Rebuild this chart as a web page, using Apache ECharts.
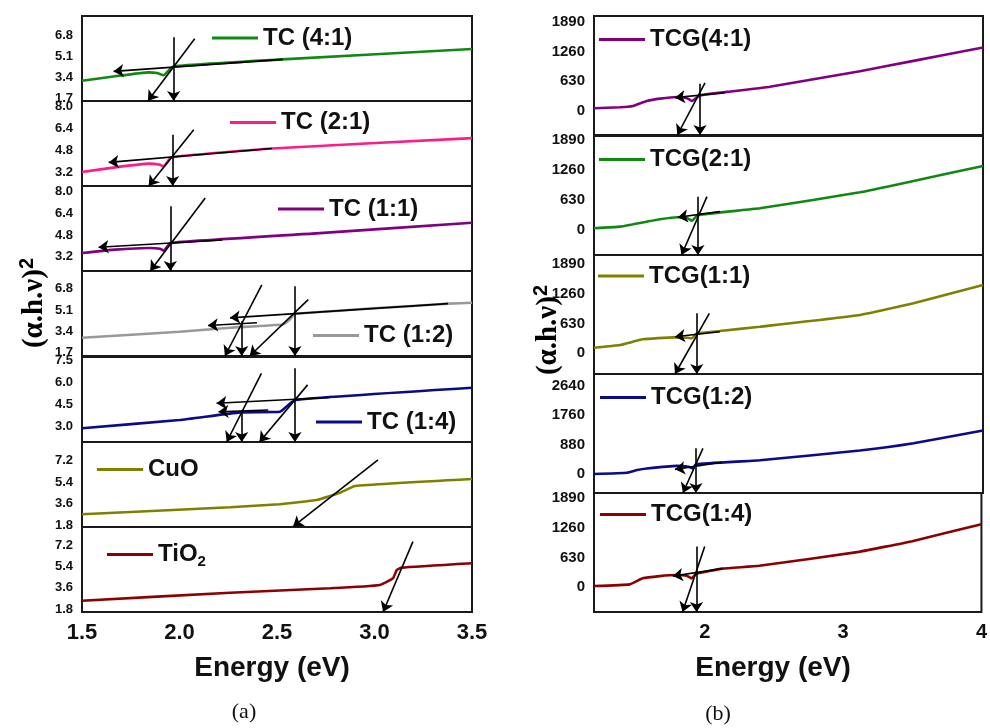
<!DOCTYPE html>
<html><head><meta charset="utf-8">
<script src="https://cdn.jsdelivr.net/npm/echarts@6/dist/echarts.min.js"></script>
<style>html,body{margin:0;padding:0;background:#fff}#c{width:990px;height:728px}</style>
</head><body><div id="c"></div>
<script>
// ---------- Panel (a) data: [Energy eV, value] ----------
const tc41 = [[1.5,3.1],[1.67,3.46],[1.842,3.78],[1.885,3.72],[1.919,3.54],[1.948,3.99],[1.97,4.27],[2.526,4.83],[3.5,5.67]];
const tc21 = [[1.5,3.22],[1.67,3.56],[1.842,3.83],[1.9,3.75],[1.919,3.63],[1.958,4.29],[2.474,4.93],[3.5,5.69]];
const tc11 = [[1.5,3.47],[1.67,3.72],[1.842,3.84],[1.9,3.79],[1.919,3.64],[1.953,4.21],[2.7,4.92],[3.5,5.71]];
const tc12 = [[1.5,2.87],[2.0,3.36],[2.26,3.68],[2.53,3.94],[2.56,4.25],[2.592,4.79],[3.377,5.61],[3.5,5.68]];
const tc14 = [[1.5,2.9],[2.0,3.45],[2.31,3.97],[2.515,4.01],[2.592,4.8],[3.5,5.63]];
const cuo  = [[1.5,2.7],[2.26,3.29],[2.513,3.54],[2.704,3.9],[2.823,4.51],[2.9,5.07],[3.5,5.66]];
const tio2 = [[1.5,2.52],[2.26,3.19],[2.772,3.56],[3.028,3.84],[3.095,4.4],[3.114,5.1],[3.14,5.3],[3.5,5.67]];

// tangent / arrow annotations (start -> arrow end), data units
const tc41Arrows = [[[2.53,4.83],[1.662,3.86]],[[1.97,6.61],[1.97,1.46]],[[2.078,6.5],[1.838,1.46]]];
const tc21Arrows = [[[2.474,4.93],[1.637,3.92]],[[1.965,5.94],[1.965,2.2]],[[2.073,6.3],[1.842,2.2]]];
const tc11Arrows = [[[2.22,4.43],[1.585,3.89]],[[1.953,6.92],[1.953,2.14]],[[2.132,7.53],[1.85,2.14]]];
const tc12Arrows = [[[3.377,5.61],[2.259,4.47]],[[2.397,4.08],[2.146,3.86]],[[2.319,4.2],[2.319,1.41]],[[2.422,7.12],[2.233,1.41]],[[2.592,7.0],[2.592,1.41]],[[2.66,5.93],[2.36,1.41]]];
const tc14Arrows = [[[2.77,4.97],[2.19,4.58]],[[2.455,4.13],[2.2,4.01]],[[2.319,4.13],[2.319,1.97]],[[2.42,6.6],[2.242,1.97]],[[2.592,6.95],[2.592,1.97]],[[2.657,5.82],[2.41,1.97]]];
const cuoArrows  = [[[3.018,7.26],[2.582,1.66]]];
const tio2Arrows = [[[3.197,7.48],[3.044,1.57]]];

const leftNames  = ['TC (4:1)','TC (2:1)','TC (1:1)','TC (1:2)','TC (1:4)','CuO','TiO2'];
const leftColors = ['#118811','#ff1a8c','#800080','#999999','#0a0a8a','#808000','#8b0000'];
const leftYRange = [[1.46,8.34],[2.2,8.4],[2.14,8.42],[1.41,8.23],[1.97,7.7],[1.63,8.77],[1.57,8.71]];
const leftYTicks = [[1.7,3.4,5.1,6.8],[3.2,4.8,6.4,8.0],[3.2,4.8,6.4,8.0],[1.7,3.4,5.1,6.8],[3.0,4.5,6.0,7.5],[1.8,3.6,5.4,7.2],[1.8,3.6,5.4,7.2]];
const leftXRange = [1.5,3.5];
const leftXTicks = [1.5,2.0,2.5,3.0,3.5];

// ---------- Panel (b) data ----------
const tcg41 = [[1.2,57],[1.387,77],[1.48,105],[1.58,210],[1.675,260],[1.797,294],[1.87,270],[1.905,210],[1.963,330],[2.2,416],[2.466,512],[3.114,840],[3.5,1060],[4.0,1344]];
const tcg21 = [[1.2,36],[1.387,70],[1.48,120],[1.58,175],[1.675,225],[1.797,267],[1.87,250],[1.905,196],[1.948,315],[2.394,455],[3.114,791],[3.5,1030],[4.0,1344]];
const tcg11 = [[1.2,118],[1.387,175],[1.48,245],[1.55,296],[1.77,338],[1.87,330],[1.905,317],[1.94,423],[2.106,471],[2.394,562],[3.114,810],[3.5,1060],[4.0,1445]];
const tcg12 = [[1.2,0],[1.437,38],[1.51,117],[1.58,166],[1.797,243],[1.88,220],[1.912,166],[1.934,294],[2.394,413],[3.114,706],[3.5,920],[4.0,1307]];
const tcg14 = [[1.2,27],[1.459,63],[1.552,190],[1.675,238],[1.797,260],[1.87,245],[1.905,190],[1.94,290],[2.128,397],[2.394,456],[3.114,753],[3.5,980],[4.0,1340]];

const tcg41Arrows = [[[2.14,386],[1.783,281]],[[1.963,575],[1.963,-510]],[[1.999,596],[1.80,-510]]];
const tcg21Arrows = [[[2.106,385],[1.804,267]],[[1.948,700],[1.948,-525]],[[2.013,700],[1.83,-525]]];
const tcg11Arrows = [[[2.106,457],[1.783,351]],[[1.94,846],[1.94,-438]],[[2.03,846],[1.783,-438]]];
const tcg12Arrows = [[[2.12,350],[1.783,139]],[[1.934,770],[1.934,-570]],[[1.984,770],[1.84,-570]]];
const tcg14Arrows = [[[2.128,401],[1.77,238]],[[1.941,867],[1.941,-524]],[[2.0,867],[1.84,-524]]];

const rightNames  = ['TCG(4:1)','TCG(2:1)','TCG(1:1)','TCG(1:2)','TCG(1:4)'];
const rightColors = ['#800080','#118811','#808000','#0a0a8a','#8b0000'];
const rightYRange = [[-510,2010],[-525,1974],[-438,2080],[-570,3000],[-524,2002]];
const rightYTicks = [[0,630,1260,1890],[0,630,1260,1890],[0,630,1260,1890],[0,880,1760,2640],[0,630,1260,1890]];
const rightXRange = [1.2,4.0];
const rightXTicks = [2,3,4];

// ---------- build ----------
const leftData   = [tc41,tc21,tc11,tc12,tc14,cuo,tio2];
const leftArrows = [tc41Arrows,tc21Arrows,tc11Arrows,tc12Arrows,tc14Arrows,cuoArrows,tio2Arrows];
const rightData   = [tcg41,tcg21,tcg11,tcg12,tcg14];
const rightArrows = [tcg41Arrows,tcg21Arrows,tcg11Arrows,tcg12Arrows,tcg14Arrows];

const FONT = '"Liberation Sans", Arial, sans-serif';
const grids=[], xAxes=[], yAxes=[], series=[], legends=[];

const leftLayout  = {left:82, width:390, tops:[16,101,186,271,357,442,527], h:85};
const rightLayout = {left:594, width:389, tops:[16,136,255,374,493], h:119};
const leftLegendPos  = [[212,38],[230,122.5],[278,209],[313,335.5],[316,422],[97,469.5],[107,554.5]];
const rightLegendPos = [[599,39.5],[599,159.5],[598,276],[600,397.5],[600,514.5]];

function addPanel(layout, names, colors, datas, arrows, yr, yt, xr, xt, xFont, yFont, yDec, legendPos, legendFont) {
  const n = names.length;
  for (let i=0;i<n;i++) {
    const idx = grids.length;
    grids.push({left:layout.left, top:layout.tops[i], width:layout.width, height:layout.h,
      show:true, borderColor:'#1a1a1a', borderWidth:2, backgroundColor:'transparent', containLabel:false});
    const last = i===n-1;
    xAxes.push({type:'value', gridIndex:idx, min:xr[0], max:xr[1],
      axisLine:{show:false}, axisTick:{show:false}, splitLine:{show:false},
      axisLabel:{show:last, customValues:xt, margin:10, fontSize:xFont, fontWeight:'bold', color:'#111', fontFamily:FONT,
        formatter: v => xr[0]===1.5 ? v.toFixed(1) : String(Math.round(v))}});
    yAxes.push({type:'value', gridIndex:idx, min:yr[i][0], max:yr[i][1],
      axisLine:{show:false}, axisTick:{show:false}, splitLine:{show:false},
      axisLabel:{customValues:yt[i], margin:9, fontSize:yFont, fontWeight:'bold', color:'#111', fontFamily:FONT,
        formatter: v => yDec ? v.toFixed(1) : String(v)}});
    series.push({type:'line', name:names[i], xAxisIndex:idx, yAxisIndex:idx, data:datas[i],
      showSymbol:false, symbol:'none', smooth:0.12, lineStyle:{width:2.6, color:colors[i]}, itemStyle:{color:colors[i]}, z:2, silent:true});
    series.push({type:'lines', coordinateSystem:'cartesian2d', xAxisIndex:idx, yAxisIndex:idx,
      data: arrows[i].map(a => ({coords:a})), symbol:['none','arrow'], symbolSize:10,
      lineStyle:{color:'#000', width:1.6, opacity:1, curveness:0}, z:3, silent:true});
    const isTi = names[i]==='TiO2';
    legends.push({data:[names[i]], left:legendPos[i][0], top:legendPos[i][1]-legendFont/2, padding:0,
      itemWidth:46, itemHeight:3, icon:'rect', selectedMode:false,
      formatter: isTi ? '{a|TiO}{b|2}' : '{name}',
      textStyle:{fontSize:legendFont, fontWeight:'bold', color:'#111', fontFamily:FONT,
        rich:{a:{fontSize:legendFont, fontWeight:'bold', color:'#111', fontFamily:FONT},
              b:{fontSize:15, fontWeight:'bold', color:'#111', fontFamily:FONT, padding:[14,0,0,0]}}}});
  }
}
addPanel(leftLayout, leftNames, leftColors, leftData, leftArrows, leftYRange, leftYTicks, leftXRange, leftXTicks, 22, 13, true, leftLegendPos, 24);
addPanel(rightLayout, rightNames, rightColors, rightData, rightArrows, rightYRange, rightYTicks, rightXRange, rightXTicks, 20, 15, false, rightLegendPos, 24);

const titleRich = {m:{fontSize:29, fontWeight:'bold', fontFamily:'"Liberation Serif", "Times New Roman", serif', color:'#111'},
                   s:{fontSize:20, fontWeight:'bold', fontFamily:FONT, color:'#111', padding:[0,0,16,0]}};
const graphic = [
  {type:'text', x:35, y:303, rotation:Math.PI/2, style:{text:'{m|(α.h.ν)}{s|2}', rich:titleRich, align:'center', verticalAlign:'middle'}},
  {type:'text', x:549, y:330, rotation:Math.PI/2, style:{text:'{m|(α.h.ν)}{s|2}', rich:titleRich, align:'center', verticalAlign:'middle'}},
  {type:'text', x:272, y:668, style:{text:'Energy (eV)', font:'bold 28px '+FONT, fill:'#111', align:'center', verticalAlign:'middle'}},
  {type:'text', x:773, y:668, style:{text:'Energy (eV)', font:'bold 28px '+FONT, fill:'#111', align:'center', verticalAlign:'middle'}},
  {type:'text', x:244, y:712, style:{text:'(a)', font:'22px "Liberation Serif", serif', fill:'#111', align:'center', verticalAlign:'middle'}},
  {type:'text', x:718, y:714, style:{text:'(b)', font:'22px "Liberation Serif", serif', fill:'#111', align:'center', verticalAlign:'middle'}}
];

const chart = echarts.init(document.getElementById('c'), null, {renderer:'canvas'});
chart.setOption({animation:false, backgroundColor:'#fff', grid:grids, xAxis:xAxes, yAxis:yAxes, series:series, legend:legends, graphic:graphic});
</script></body></html>
